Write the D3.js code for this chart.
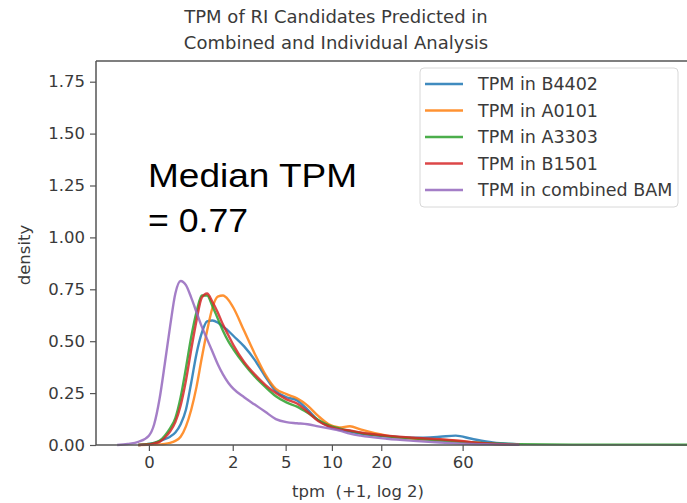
<!DOCTYPE html>
<html>
<head>
<meta charset="utf-8">
<script src="https://cdn.jsdelivr.net/npm/d3@7"></script>
<style>
  html, body { margin: 0; padding: 0; background: #fff; }
  svg { display: block; overflow: hidden; }
</style>
</head>
<body>
<svg id="chart" width="687" height="503"></svg>
<script>
// Density estimates of TPM on a log2(tpm + 1) axis.
const gridX = [-0.6, -0.4, -0.2, 0, 0.1, 0.2, 0.3, 0.4, 0.5, 0.6, 0.7, 0.8, 0.9, 1.0, 1.1, 1.2, 1.3, 1.4, 1.5, 1.6,
               1.8, 2.0, 2.2, 2.4, 2.6, 2.8, 3.0, 3.2, 3.4, 3.6, 3.8, 4.0, 4.5, 5.0, 5.5, 5.8, 6.1, 6.5, 7.0, 8.0, 9.0, 10.4];

const densB4402 = [null, null, 0.0, 0.005, 0.01, 0.018, 0.028, 0.04, 0.06, 0.10, 0.17, 0.30, 0.44, 0.54, 0.595, 0.60, 0.59, 0.57, 0.55, 0.525,
                   0.475, 0.41, 0.33, 0.26, 0.23, 0.215, 0.17, 0.12, 0.09, 0.075, 0.065, 0.055, 0.042, 0.035, 0.04, 0.045, 0.03, 0.012, 0.003, null, null, null];
const densA0101 = [null, null, 0.0, 0.001, 0.002, 0.003, 0.005, 0.01, 0.02, 0.04, 0.09, 0.17, 0.28, 0.42, 0.55, 0.66, 0.715, 0.72, 0.70, 0.66,
                   0.55, 0.44, 0.34, 0.27, 0.245, 0.225, 0.19, 0.14, 0.10, 0.085, 0.09, 0.075, 0.045, 0.03, 0.025, 0.02, 0.012, 0.005, 0.001, null, null, null];
const densA3303 = [null, null, 0.0, 0.005, 0.01, 0.02, 0.045, 0.08, 0.13, 0.23, 0.37, 0.52, 0.64, 0.72, 0.72, 0.67, 0.61, 0.55, 0.50, 0.46,
                   0.39, 0.33, 0.28, 0.235, 0.205, 0.185, 0.155, 0.12, 0.095, 0.08, 0.068, 0.058, 0.042, 0.032, 0.022, 0.017, 0.012, 0.007, 0.004, 0.002, 0.002, 0.001];
const densB1501 = [null, null, 0.0, 0.003, 0.008, 0.015, 0.035, 0.065, 0.11, 0.19, 0.31, 0.46, 0.60, 0.71, 0.73, 0.69, 0.64, 0.58, 0.53, 0.48,
                   0.40, 0.34, 0.29, 0.25, 0.22, 0.20, 0.16, 0.115, 0.09, 0.075, 0.07, 0.06, 0.045, 0.035, 0.028, 0.022, 0.014, 0.006, 0.002, null, null, null];
const densCombined = [0.0, 0.005, 0.015, 0.045, 0.10, 0.22, 0.39, 0.57, 0.73, 0.79, 0.77, 0.71, 0.64, 0.57, 0.51, 0.45, 0.39, 0.34, 0.30, 0.27,
                      0.23, 0.195, 0.16, 0.125, 0.11, 0.105, 0.10, 0.09, 0.08, 0.07, 0.055, 0.045, 0.03, 0.02, 0.012, 0.008, 0.005, 0.003, 0.001, null, null, null];

const seriesNames = ["TPM in B4402", "TPM in A0101", "TPM in A3303", "TPM in B1501", "TPM in combined BAM"];
const seriesColors = ["#1f77b4", "#ff7f0e", "#2ca02c", "#d62728", "#9467bd"];
const seriesValues = [densB4402, densA0101, densA3303, densB1501, densCombined];

const xTickValues = [0, 2, 5, 10, 20, 60];   // tpm, placed at log2(tpm + 1)
const yTickValues = [0, 0.25, 0.5, 0.75, 1.0, 1.25, 1.5, 1.75];

const titleLines = ["TPM of RI Candidates Predicted in", "Combined and Individual Analysis"];
const noteLines = ["Median TPM", "= 0.77"];
const noteWidths = [209, 100];

// Layout
const plotLeft = 96, plotTop = 61, plotBottom = 445, plotRight = 700;
const pxPerUnit = 52.9;
const x = d3.scaleLinear().domain([-1.0, -1.0 + (plotRight - plotLeft) / pxPerUnit]).range([plotLeft, plotRight]);
const y = d3.scaleLinear().domain([0, (plotBottom - plotTop) / 207.6]).range([plotBottom, plotTop]);

const svg = d3.select("#chart");
const textColor = "#3a3a3a";
const spineColor = "#555";
const font = "'DejaVu Sans', sans-serif";

// Curves
const line = d3.line()
  .defined(d => d[1] !== null)
  .x(d => x(d[0]))
  .y(d => y(d[1]))
  .curve(d3.curveMonotoneX);

const plot = svg.append("g");
seriesValues.forEach((vals, i) => {
  plot.append("path")
    .datum(gridX.map((gx, j) => [gx, vals[j]]))
    .attr("d", line)
    .attr("fill", "none")
    .attr("stroke", seriesColors[i])
    .attr("stroke-opacity", 0.85)
    .attr("stroke-width", 2.4)
    .attr("stroke-linejoin", "round");
});

// Axes
const xAxis = d3.axisBottom(x)
  .tickValues(xTickValues.map(v => Math.log2(v + 1)))
  .tickFormat((d, i) => xTickValues[i])
  .tickSize(6).tickPadding(5);
const yAxis = d3.axisLeft(y)
  .tickValues(yTickValues)
  .tickFormat(d3.format(".2f"))
  .tickSize(6).tickPadding(5);

const gx = svg.append("g").attr("transform", `translate(0,${plotBottom})`).call(xAxis);
const gy = svg.append("g").attr("transform", `translate(${plotLeft},0)`).call(yAxis);
[gx, gy].forEach(g => {
  g.select(".domain").remove();
  g.selectAll(".tick line").attr("stroke", spineColor).attr("stroke-width", 1.2);
  g.selectAll(".tick text").attr("fill", textColor).style("font-family", font).style("font-size", "16.5px");
});

// Spines
svg.append("line").attr("x1", plotLeft).attr("x2", plotLeft).attr("y1", plotTop).attr("y2", plotBottom)
  .attr("stroke", spineColor).attr("stroke-width", 1.5);
svg.append("line").attr("x1", plotLeft).attr("x2", plotRight).attr("y1", plotBottom).attr("y2", plotBottom)
  .attr("stroke", spineColor).attr("stroke-width", 1.5);
svg.append("line").attr("x1", plotLeft).attr("x2", plotRight).attr("y1", plotTop).attr("y2", plotTop)
  .attr("stroke", spineColor).attr("stroke-width", 1.5);

// Axis labels
svg.append("text")
  .attr("x", 358).attr("y", 497)
  .attr("text-anchor", "middle")
  .style("white-space", "pre")
  .style("font-family", font).style("font-size", "16.5px")
  .attr("fill", textColor)
  .text("tpm  (+1, log 2)");
svg.append("text")
  .attr("transform", "translate(30,255) rotate(-90)")
  .attr("text-anchor", "middle")
  .style("font-family", font).style("font-size", "16.5px")
  .attr("fill", textColor)
  .text("density");

// Title
titleLines.forEach((t, i) => {
  svg.append("text")
    .attr("x", 336).attr("y", 23 + i * 26)
    .attr("text-anchor", "middle")
    .style("font-family", font).style("font-size", "18px")
    .attr("fill", textColor)
    .text(t);
});

// Legend
const legend = svg.append("g");
legend.append("rect")
  .attr("x", 420).attr("y", 68).attr("width", 258).attr("height", 139)
  .attr("rx", 4)
  .attr("fill", "#fff").attr("fill-opacity", 0.8)
  .attr("stroke", "#d8d8d8").attr("stroke-width", 1);
seriesNames.forEach((name, i) => {
  const ly = 84 + i * 26.5;
  legend.append("line")
    .attr("x1", 425).attr("x2", 463).attr("y1", ly).attr("y2", ly)
    .attr("stroke", seriesColors[i]).attr("stroke-opacity", 0.85).attr("stroke-width", 2.4);
  legend.append("text")
    .attr("x", 478).attr("y", ly + 6)
    .style("font-family", font).style("font-size", "17.5px")
    .attr("fill", textColor)
    .text(name);
});

// Median annotation
noteLines.forEach((t, i) => {
  svg.append("text")
    .attr("x", 148).attr("y", 187 + i * 45)
    .attr("textLength", noteWidths[i])
    .attr("lengthAdjust", "spacingAndGlyphs")
    .style("font-family", "'Liberation Sans', Arial, sans-serif").style("font-size", "33px")
    .attr("fill", "#000")
    .text(t);
});
</script>
</body>
</html>
